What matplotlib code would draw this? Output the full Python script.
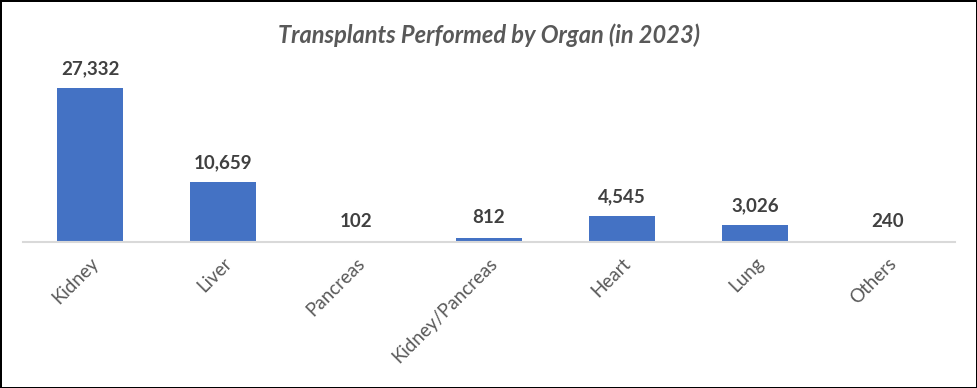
import matplotlib.pyplot as plt
import matplotlib.ticker as mticker


organs = ["Kidney", "Liver", "Pancreas", "Kidney/Pancreas", "Heart", "Lung", "Others"]
transplants = [27332, 10659, 102, 812, 4545, 3026, 240]

BAR_COLOR = "#4472C4"
TEXT_COLOR = "#595959"
LABEL_COLOR = "#404040"


def main():
    plt.rcParams["font.family"] = ["Lato", "DejaVu Sans"]

    fig = plt.figure(figsize=(9.77, 3.88), dpi=100, linewidth=2, edgecolor="black")
    ax = fig.add_axes([0.024, 0.376, 0.953, 0.436])

    positions = range(len(organs))
    bars = ax.bar(positions, transplants, width=0.5, color=BAR_COLOR)

    for bar, value in zip(bars, transplants):
        ax.annotate(
            f"{value:,}",
            xy=(bar.get_x() + bar.get_width() / 2, bar.get_height()),
            xytext=(0, 8),
            textcoords="offset points",
            ha="center",
            va="bottom",
            fontsize=13.5,
            fontweight="bold",
            color=LABEL_COLOR,
        )

    ax.set_xlim(-0.5, len(organs) - 0.5)
    ax.set_ylim(0, 30000)
    ax.set_xticks(list(positions))
    ax.set_xticklabels(organs, rotation=45, ha="right", rotation_mode="anchor",
                       fontsize=13.5, color=TEXT_COLOR)
    ax.tick_params(axis="x", length=0, pad=9)
    ax.yaxis.set_major_locator(mticker.NullLocator())

    for side in ["top", "right", "left"]:
        ax.spines[side].set_visible(False)
    ax.spines["bottom"].set_color("#D9D9D9")
    ax.spines["bottom"].set_linewidth(1.5)

    fig.text(0.5, 0.91, "Transplants Performed by Organ (in 2023)",
             ha="center", va="center", fontsize=17, fontweight="bold",
             fontstyle="italic", color=TEXT_COLOR)

    fig.savefig("out.png", dpi=100, edgecolor=fig.get_edgecolor())
    plt.close(fig)


if __name__ == "__main__":
    main()
